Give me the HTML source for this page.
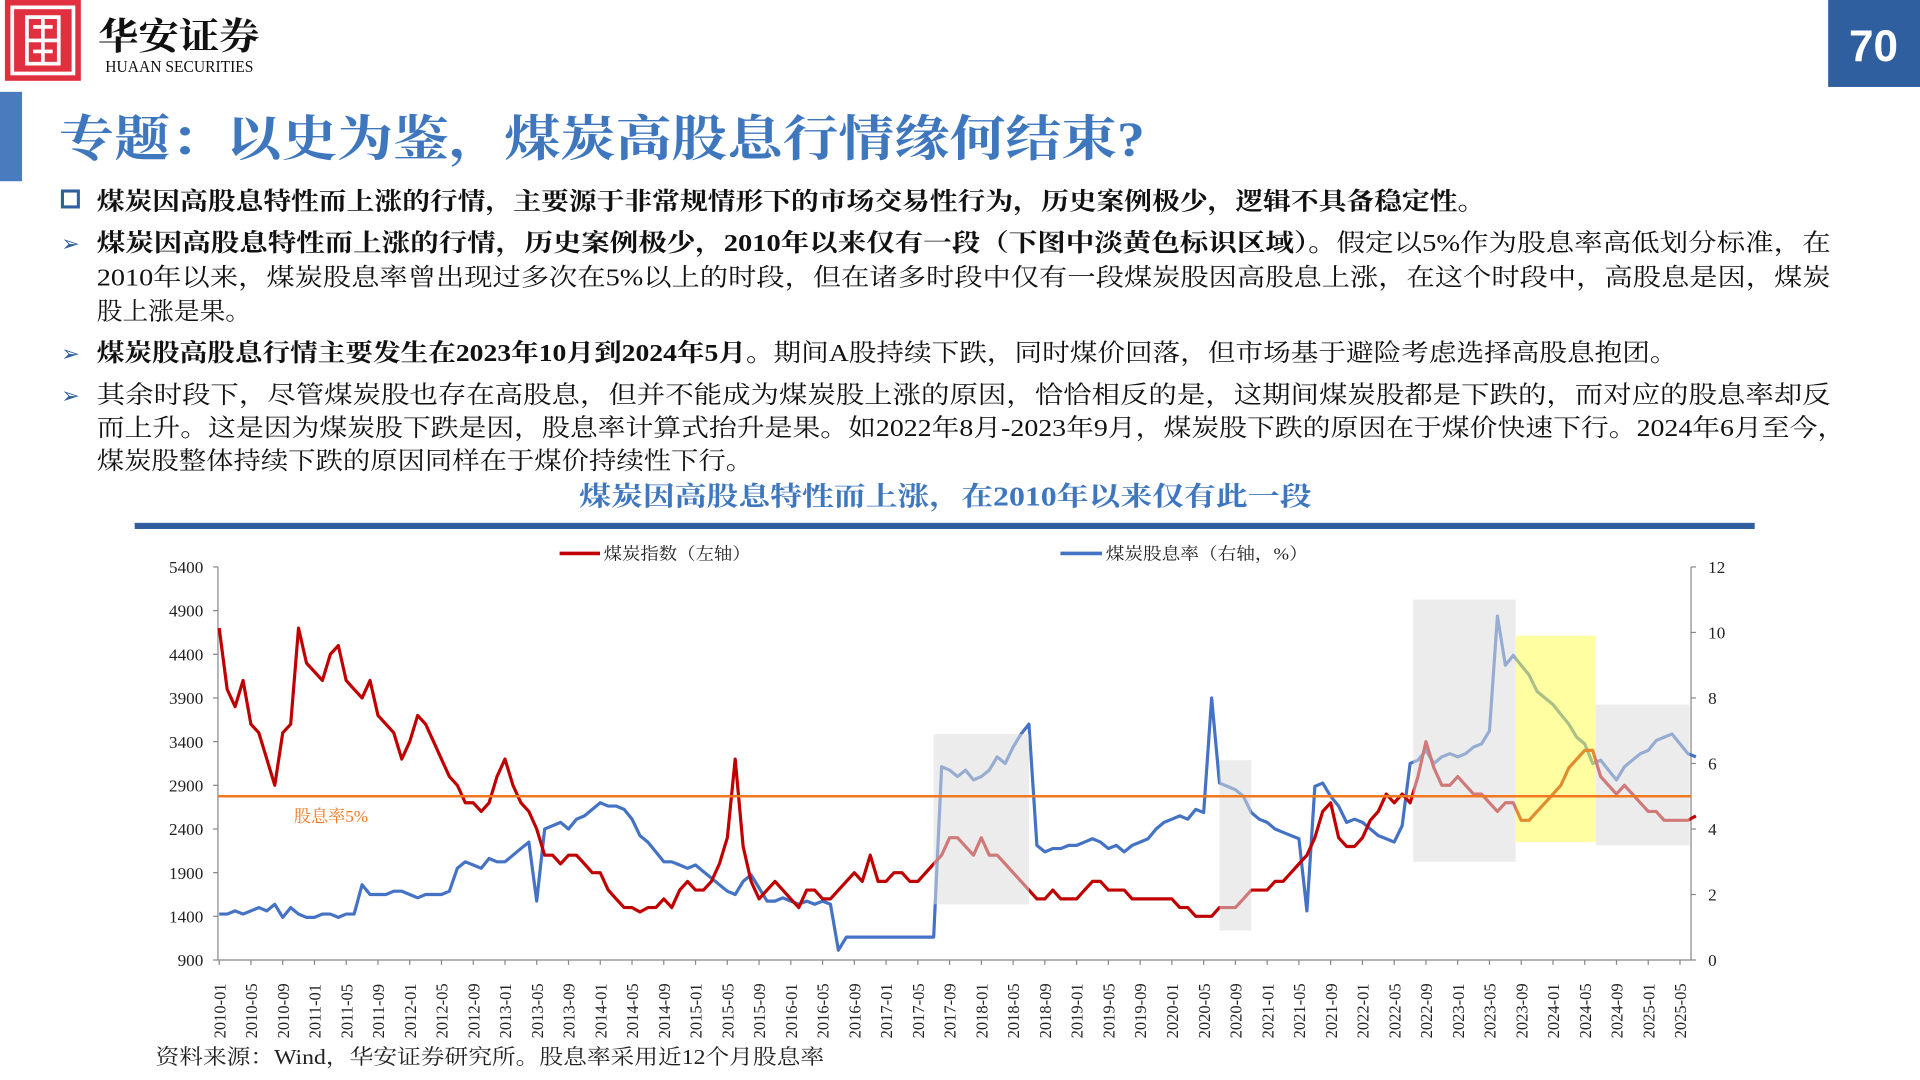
<!DOCTYPE html>
<html><head><meta charset="utf-8"><style>
html,body{margin:0;padding:0;background:#fff;overflow:hidden}
svg{display:block}
text{font-family:"Liberation Serif","Noto Serif CJK SC",serif}
</style></head><body>
<svg id="page" width="1920" height="1080" viewBox="0 0 1568 882" preserveAspectRatio="none" xmlns="http://www.w3.org/2000/svg">
<g>
<rect x="4" y="0" width="62" height="66" fill="#e0303f"/>
<rect x="10" y="6" width="50" height="54" fill="none" stroke="#fff" stroke-width="3"/>
<path d="M22 14h26v38h-26z M22 33h26 M35 14v38 M27 22h16 M27 42h16" fill="none" stroke="#fff" stroke-width="3"/>
<text x="80" y="40" font-size="30" fill="#111" style="font-family:'Noto Serif CJK SC',serif;font-weight:bold" textLength="132" lengthAdjust="spacingAndGlyphs">华安证券</text>
<text x="86" y="59" font-size="14" fill="#111" textLength="121" lengthAdjust="spacingAndGlyphs">HUAAN SECURITIES</text>
</g>
<rect x="1493" y="0" width="75" height="71" fill="#2f5f9e"/>
<text x="1530" y="50" font-size="36" fill="#fff" text-anchor="middle" style="font-family:'Liberation Sans',sans-serif;font-weight:bold">70</text>
<rect x="0" y="75" width="18" height="73" fill="#4a7bbf"/>
<text x="48" y="127" font-size="40" fill="#3f77bf" font-weight="bold" textLength="887" lengthAdjust="spacingAndGlyphs">专题：以史为鉴，煤炭高股息行情缘何结束?</text>
<g font-size="20" fill="#111">
<rect x="51" y="156" width="13" height="13" fill="none" stroke="#2f5f9e" stroke-width="2.5"/>
<text x="79" y="171" font-weight="bold" textLength="1134" lengthAdjust="spacingAndGlyphs">煤炭因高股息特性而上涨的行情，主要源于非常规情形下的市场交易性行为，历史案例极少，逻辑不具备稳定性。</text>
<text x="50" y="205" fill="#2f5f9e" font-size="18">➢</text>
<text x="79" y="205" textLength="1416" lengthAdjust="spacingAndGlyphs"><tspan font-weight="bold">煤炭因高股息特性而上涨的行情，历史案例极少，2010年以来仅有一段（下图中淡黄色标识区域）。</tspan>假定以5%作为股息率高低划分标准，在</text>
<text x="79" y="233" textLength="1416" lengthAdjust="spacingAndGlyphs">2010年以来，煤炭股息率曾出现过多次在5%以上的时段，但在诸多时段中仅有一段煤炭股因高股息上涨，在这个时段中，高股息是因，煤炭</text>
<text x="79" y="261" textLength="126" lengthAdjust="spacingAndGlyphs">股上涨是果。</text>
<text x="50" y="295" fill="#2f5f9e" font-size="18">➢</text>
<text x="79" y="295" textLength="1291" lengthAdjust="spacingAndGlyphs"><tspan font-weight="bold">煤炭股高股息行情主要发生在2023年10月到2024年5月。</tspan>期间A股持续下跌，同时煤价回落，但市场基于避险考虑选择高股息抱团。</text>
<text x="50" y="329" fill="#2f5f9e" font-size="18">➢</text>
<text x="79" y="329" textLength="1416" lengthAdjust="spacingAndGlyphs">其余时段下，尽管煤炭股也存在高股息，但并不能成为煤炭股上涨的原因，恰恰相反的是，这期间煤炭股都是下跌的，而对应的股息率却反</text>
<text x="79" y="356" textLength="1428" lengthAdjust="spacingAndGlyphs">而上升。这是因为煤炭股下跌是因，股息率计算式抬升是果。如2022年8月-2023年9月，煤炭股下跌的原因在于煤价快速下行。2024年6月至今，</text>
<text x="79" y="383" textLength="536" lengthAdjust="spacingAndGlyphs">煤炭股整体持续下跌的原因同样在于煤价持续性下行。</text>
</g>
<text x="473" y="413" font-size="22" fill="#3f77bf" font-weight="bold" textLength="598" lengthAdjust="spacingAndGlyphs">煤炭因高股息特性而上涨，在2010年以来仅有此一段</text>
<rect x="110" y="427" width="1323" height="5" fill="#2f5f9e"/>
<g font-size="14" fill="#222">
<line x1="457" y1="452" x2="490" y2="452" stroke="#c00000" stroke-width="3"/>
<text x="493" y="457" textLength="120" lengthAdjust="spacingAndGlyphs">煤炭指数（左轴）</text>
<line x1="866" y1="452" x2="900" y2="452" stroke="#4472c4" stroke-width="3"/>
<text x="903" y="457" textLength="165" lengthAdjust="spacingAndGlyphs">煤炭股息率（右轴，%）</text>
</g>
<g id="chart"></g>
<text x="127" y="869" font-size="17" fill="#222" textLength="546" lengthAdjust="spacingAndGlyphs">资料来源：Wind，华安证券研究所。股息率采用近12个月股息率</text>
</svg>
<script>
const startYear = 2010;
const coalIndex = [
4700,4000,3800,4100,3600,3500,3200,2900,3500,3600,4700,4300,
4200,4100,4400,4500,4100,4000,3900,4100,3700,3600,3500,3200,
3400,3700,3600,3400,3200,3000,2900,2700,2700,2600,2700,3000,
3200,2900,2700,2600,2400,2100,2100,2000,2100,2100,2000,1900,
1900,1700,1600,1500,1500,1450,1500,1500,1600,1500,1700,1800,
1700,1700,1800,2000,2300,3200,2200,1800,1600,1700,1800,1700,
1600,1500,1700,1700,1600,1600,1700,1800,1900,1800,2100,1800,
1800,1900,1900,1800,1800,1900,2000,2100,2300,2300,2200,2100,
2300,2100,2100,2000,1900,1800,1700,1600,1600,1700,1600,1600,
1600,1700,1800,1800,1700,1700,1700,1600,1600,1600,1600,1600,
1600,1500,1500,1400,1400,1400,1500,1500,1500,1600,1700,1700,
1700,1800,1800,1900,2000,2100,2300,2600,2700,2300,2200,2200,
2300,2500,2600,2800,2700,2800,2700,3000,3400,3100,2900,2900,
3000,2900,2800,2800,2700,2600,2700,2700,2500,2500,2600,2700,
2800,2900,3100,3200,3300,3300,3000,2900,2800,2900,2800,2700,
2600,2600,2500,2500,2500,2500,2550];
const dividendYield = [
1.4,1.4,1.5,1.4,1.5,1.6,1.5,1.7,1.3,1.6,1.4,1.3,
1.3,1.4,1.4,1.3,1.4,1.4,2.3,2.0,2.0,2.0,2.1,2.1,
2.0,1.9,2.0,2.0,2.0,2.1,2.8,3.0,2.9,2.8,3.1,3.0,
3.0,3.2,3.4,3.6,1.8,4.0,4.1,4.2,4.0,4.3,4.4,4.6,
4.8,4.7,4.7,4.6,4.3,3.8,3.6,3.3,3.0,3.0,2.9,2.8,
2.9,2.7,2.5,2.3,2.1,2.0,2.4,2.6,2.2,1.8,1.8,1.9,
1.8,1.7,1.8,1.7,1.8,1.7,0.3,0.7,0.7,0.7,0.7,0.7,
0.7,0.7,0.7,0.7,0.7,0.7,0.7,5.9,5.8,5.6,5.8,5.5,
5.6,5.8,6.2,6.0,6.5,6.9,7.2,3.5,3.3,3.4,3.4,3.5,
3.5,3.6,3.7,3.6,3.4,3.5,3.3,3.5,3.6,3.7,4.0,4.2,
4.3,4.4,4.3,4.6,4.5,8.0,5.4,5.3,5.2,5.0,4.5,4.3,
4.2,4.0,3.9,3.8,3.7,1.5,5.3,5.4,5.0,4.7,4.2,4.3,
4.2,4.0,3.8,3.7,3.6,4.1,6.0,6.1,6.4,6.0,6.2,6.3,
6.2,6.3,6.5,6.6,7.0,10.5,9.0,9.3,9.0,8.7,8.2,8.0,
7.8,7.5,7.2,6.8,6.6,6.0,6.1,5.8,5.5,5.9,6.1,6.3,
6.4,6.7,6.8,6.9,6.6,6.3,6.2];
const leftTicks = [900,1400,1900,2400,2900,3400,3900,4400,4900,5400];
const rightTicks = [0,2,4,6,8,10,12];
const thresholdYield = 5;
// shaded periods: [startMonthIndex, endMonthIndex, lowYield, highYield, type]
const periods = [[90,102,1.7,6.9,'gray'],[126,130,0.9,6.1,'gray'],[150.4,163.3,3.0,11.0,'gray'],[163.3,173.4,3.6,9.9,'yellow'],[173.4,185.2,3.5,7.8,'gray']];

const NS='http://www.w3.org/2000/svg';
const g=document.getElementById('chart');
const X0=179, PX_PER_MONTH=(1372-179)/184, YB=784, YT=463;
const xs=i=>X0+i*PX_PER_MONTH;
const yL=v=>YB-(v-900)/(5400-900)*(YB-YT);
const yR=v=>YB-v/12*(YB-YT);
function mk(tag,attrs){const e=document.createElementNS(NS,tag);for(const k in attrs)e.setAttribute(k,attrs[k]);g.appendChild(e);return e;}
let a=mk('line',{x1:178,y1:YT,x2:178,y2:YB,stroke:'#888'});


a=mk('line',{x1:1381,y1:YT,x2:1381,y2:YB,stroke:'#888'});


a=mk('line',{x1:178,y1:YB,x2:1381,y2:YB,stroke:'#888'});


leftTicks.forEach(v=>{const y=yL(v);mk('line',{x1:174,y1:y,x2:178,y2:y,stroke:'#888'});
 const t=mk('text',{x:166,y:y+5,'font-size':14,'text-anchor':'end',fill:'#222'});t.textContent=v;
 
 });
rightTicks.forEach(v=>{const y=yR(v);mk('line',{x1:1381,y1:y,x2:1385,y2:y,stroke:'#888'});
 const t=mk('text',{x:1395,y:y+5,'font-size':14,fill:'#222'});t.textContent=v;
 
 });
for(let i=0;i<coalIndex.length;i+=4){const x=xs(i);mk('line',{x1:x,y1:YB,x2:x,y2:YB+4,stroke:'#888'});
 const yr=startYear+Math.floor(i/12),mo=(i%12)+1;
 const t=mk('text',{x:x+5,y:848,'font-size':13.5,fill:'#222',transform:`rotate(-90 ${x+5} 848)`});
 t.textContent=yr+'-'+String(mo).padStart(2,'0');
 
 }
function line(arr,fy,color,name){const p=mk('polyline',{points:arr.map((v,i)=>xs(i).toFixed(1)+','+fy(v).toFixed(1)).join(' '),fill:'none',stroke:color,'stroke-width':2.6,'stroke-linejoin':'round'});
 
 }
line(dividendYield,yR,'#4472c4','dividend-yield-line');
line(coalIndex,yL,'#c00000','coal-index-line');
periods.forEach(p=>{const r=mk('rect',{x:xs(p[0]),y:yR(p[3]),width:xs(p[1])-xs(p[0]),height:yR(p[2])-yR(p[3]),fill:p[4]==='yellow'?'#ffff55':'#dcdcdc',opacity:0.55});
 
 });
const th=mk('line',{x1:178,y1:yR(thresholdYield),x2:1381,y2:yR(thresholdYield),stroke:'#f07820','stroke-width':2});


const tl=mk('text',{x:240,y:yR(thresholdYield)+21,'font-size':14,fill:'#f07820'});tl.textContent='股息率5%';


</script>
</body></html>
